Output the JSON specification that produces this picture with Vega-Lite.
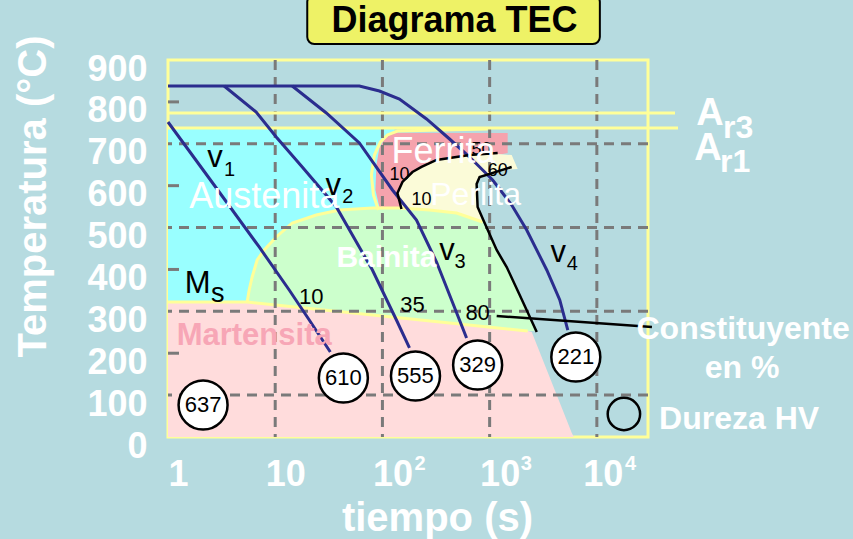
{
 "$schema": "https://vega.github.io/schema/vega-lite/v6.json",
 "width": 480, "height": 377,
 "autosize": {"type": "none"},
 "padding": {"left": 168, "top": 60, "right": 205, "bottom": 102},
 "background": "#b6dbe0",
 "config": {"view": {"stroke": "#ffff99", "strokeWidth": 3}, "font": "Liberation Sans"},
 "datasets": {
  "aust": [{"t": 1, "t2": 129.5, "T": 737.7, "T2": 322.3}],
  "mart": [{"i":0,"t":1,"T":322.3},{"i":1,"t":5.473,"T":322.3},{"i":2,"t":2265,"T":253.1},{"i":3,"t":2469,"T":250.7},{"i":4,"t":5840,"T":9.5},{"i":5,"t":6095,"T":0},{"i":6,"t":1,"T":0}],
  "ferr": [{"i":0,"t":93.76,"T":549.1},{"i":1,"t":86.03,"T":589.7},{"i":2,"t":87.89,"T":649.3},{"i":3,"t":93.76,"T":689.9},{"i":4,"t":106.7,"T":716.2},{"i":5,"t":129.5,"T":725.7},{"i":6,"t":1473,"T":725.7},{"i":7,"t":1473,"T":678.0},{"i":8,"t":1188,"T":673.2},{"i":9,"t":806.3,"T":661.3},{"i":10,"t":724.1,"T":625.5},{"i":11,"t":756.1,"T":553.9},{"i":12,"t":524.3,"T":537.1},{"i":13,"t":221.8,"T":546.7}],
  "bain": [{"i":0,"t":5.473,"T":322.3},{"i":1,"t":5.715,"T":350.9},{"i":2,"t":6.095,"T":382.0},{"i":3,"t":6.788,"T":422.6},{"i":4,"t":7.893,"T":446.4},{"i":5,"t":10.22,"T":477.5},{"i":6,"t":14.42,"T":510.9},{"i":7,"t":24.16,"T":530.0},{"i":8,"t":39.63,"T":541.9},{"i":9,"t":80.63,"T":546.7},{"i":10,"t":144.2,"T":546.7},{"i":11,"t":275.0,"T":541.9},{"i":12,"t":491.5,"T":534.8},{"i":13,"t":860.4,"T":513.3},{"i":14,"t":1163,"T":446.4},{"i":15,"t":1442,"T":405.8},{"i":16,"t":1907,"T":339.0},{"i":17,"t":2364,"T":284.1},{"i":18,"t":2634,"T":253.1},{"i":19,"t":2265,"T":253.1}],
  "perl": [{"i":0,"t":150.5,"T":541.9},{"i":1,"t":138.1,"T":582.5},{"i":2,"t":153.8,"T":608.8},{"i":3,"t":190.7,"T":632.6},{"i":4,"t":231.5,"T":644.6},{"i":5,"t":319.7,"T":661.3},{"i":6,"t":650.4,"T":673.2},{"i":7,"t":1188,"T":675.6},{"i":8,"t":1606,"T":673.2},{"i":9,"t":1827,"T":639.8},{"i":10,"t":1241,"T":637.4},{"i":11,"t":841.9,"T":623.1},{"i":12,"t":756.1,"T":604.0},{"i":13,"t":772.6,"T":549.1},{"i":14,"t":860.4,"T":513.3},{"i":15,"t":491.5,"T":534.8},{"i":16,"t":275.0,"T":541.9}],
  "lines": [
   {"l":"ferrOutline","i":0,"t":91.75,"T":541.9},{"l":"ferrOutline","i":1,"t":82.40,"T":577.7},{"l":"ferrOutline","i":2,"t":78.93,"T":625.5},{"l":"ferrOutline","i":3,"t":84.19,"T":673.2},{"l":"ferrOutline","i":4,"t":95.79,"T":704.3},{"l":"ferrOutline","i":5,"t":111.4,"T":721.0},{"l":"ferrOutline","i":6,"t":138.1,"T":730.5},{"l":"ferrOutline","i":7,"t":957.9,"T":735.3},
   {"l":"bainTop","i":0,"t":5.473,"T":322.3},{"l":"bainTop","i":1,"t":5.715,"T":350.9},{"l":"bainTop","i":2,"t":6.095,"T":382.0},{"l":"bainTop","i":3,"t":6.788,"T":422.6},{"l":"bainTop","i":4,"t":7.893,"T":446.4},{"l":"bainTop","i":5,"t":10.22,"T":477.5},{"l":"bainTop","i":6,"t":14.42,"T":510.9},{"l":"bainTop","i":7,"t":24.16,"T":530.0},{"l":"bainTop","i":8,"t":39.63,"T":541.9},{"l":"bainTop","i":9,"t":80.63,"T":546.7},{"l":"bainTop","i":10,"t":144.2,"T":546.7},{"l":"bainTop","i":11,"t":275.0,"T":541.9},{"l":"bainTop","i":12,"t":491.5,"T":534.8},{"l":"bainTop","i":13,"t":860.4,"T":513.3},
   {"l":"ms","i":0,"t":1,"T":322.3},{"l":"ms","i":1,"t":5.473,"T":322.3},{"l":"ms","i":2,"t":2265,"T":253.1},
   {"l":"v1","i":0,"t":1,"T":752},{"l":"v1","i":1,"t":2.692,"T":601.6},{"l":"v1","i":2,"t":7.087,"T":453.6},{"l":"v1","i":3,"t":13.51,"T":350.9},{"l":"v1","i":4,"t":20.78,"T":279.3},{"l":"v1","i":5,"t":32.66,"T":202.9},
   {"l":"v2","i":0,"t":3.337,"T":838},{"l":"v2","i":1,"t":6.643,"T":775.9},{"l":"v2","i":2,"t":10.22,"T":716.2},{"l":"v2","i":3,"t":17.87,"T":644.6},{"l":"v2","i":4,"t":37.17,"T":549.1},{"l":"v2","i":5,"t":80.64,"T":398.7},{"l":"v2","i":6,"t":135.1,"T":279.3},{"l":"v2","i":7,"t":178.8,"T":212.5},
   {"l":"v3","i":0,"t":14.41,"T":838},{"l":"v3","i":1,"t":29.97,"T":773.5},{"l":"v3","i":2,"t":60.96,"T":701.9},{"l":"v3","i":3,"t":124.0,"T":589.7},{"l":"v3","i":4,"t":207.8,"T":518.0},{"l":"v3","i":5,"t":319.7,"T":417.8},{"l":"v3","i":6,"t":441.5,"T":327.1},{"l":"v3","i":7,"t":609.5,"T":236.3},
   {"l":"v4","i":0,"t":1,"T":838},{"l":"v4","i":1,"t":60.96,"T":838},{"l":"v4","i":2,"t":93.76,"T":826},{"l":"v4","i":3,"t":144.2,"T":806.9},{"l":"v4","i":4,"t":257.8,"T":759.2},{"l":"v4","i":5,"t":422.9,"T":711.4},{"l":"v4","i":6,"t":650.4,"T":668.4},{"l":"v4","i":7,"t":1067,"T":613.5},{"l":"v4","i":8,"t":1606,"T":553.9},{"l":"v4","i":9,"t":2217,"T":494.2},{"l":"v4","i":10,"t":3410,"T":398.7},{"l":"v4","i":11,"t":4510,"T":327.1},{"l":"v4","i":12,"t":5358,"T":255.4},
   {"l":"start","i":0,"t":150.5,"T":544.3},{"l":"start","i":1,"t":138.1,"T":582.5},{"l":"start","i":2,"t":153.8,"T":608.8},{"l":"start","i":3,"t":190.7,"T":632.6},{"l":"start","i":4,"t":231.5,"T":644.6},{"l":"start","i":5,"t":319.7,"T":661.3},{"l":"start","i":6,"t":650.4,"T":673.2},{"l":"start","i":7,"t":1188,"T":678.0},
   {"l":"end","i":0,"t":1606,"T":644.6},{"l":"end","i":1,"t":806.3,"T":620.7},{"l":"end","i":2,"t":756.1,"T":604.0},{"l":"end","i":3,"t":772.6,"T":549.1},{"l":"end","i":4,"t":898.3,"T":510.9},{"l":"end","i":5,"t":1163,"T":446.4},{"l":"end","i":6,"t":1442,"T":405.8},{"l":"end","i":7,"t":1907,"T":339.0},{"l":"end","i":8,"t":2750,"T":250.7},
   {"l":"pointer","i":0,"t":1163,"T":288.9},{"l":"pointer","i":1,"t":32660,"T":262.6}
  ],
  "gx": [{"t":10},{"t":100},{"t":1000},{"t":10000}],
  "gy": [{"T":100},{"T":300},{"T":500},{"T":700}],
  "ticks": [{"t":1,"t2":1.267,"T":200},{"t":1,"t2":1.267,"T":400},{"t":1,"t2":1.267,"T":600},{"t":1,"t2":1.267,"T":800}],
  "ar": [{"t":1,"t2":53580,"T":773.5},{"t":1,"t2":57150,"T":737.7}],
  "hardness": [{"hv":"637","t":2.124,"T":76.4},{"hv":"610","t":43.21,"T":140.9},{"hv":"555","t":203.4,"T":145.6},{"hv":"329","t":772.6,"T":171.9},{"hv":"221","t":6364,"T":191.0}],
  "legendCircle": [{"t":17880,"T":54.9}],
  "titleBox": [{"t":19.9,"t2":10667,"T":938.2,"T2":1055}],
  "labels": [
   {"kind":"region","text":"Austenita","t":7.893,"T":573},
   {"kind":"region","text":"Ferrita","t":371.6,"T":680.4},
   {"kind":"regionS","text":"Perlita","t":740.1,"T":577.7},
   {"kind":"bain","text":"Bainita","t":109.0,"T":427.3},
   {"kind":"mart","text":"Martensita","t":6.364,"T":241.1},
   {"kind":"v","text":"v","t":2.750,"T":644.6},
   {"kind":"v","text":"v","t":34.85,"T":577.7},
   {"kind":"v","text":"v","t":400.6,"T":422.6},
   {"kind":"v","text":"v","t":4367,"T":417.8},
   {"kind":"v","text":"M","t":1.887,"T":343.8},
   {"kind":"sub","text":"1","t":3.337,"T":623.1},
   {"kind":"sub","text":"2","t":42.29,"T":558.6},
   {"kind":"sub","text":"3","t":470.9,"T":403.5},
   {"kind":"sub","text":"4","t":5244,"T":398.7},
   {"kind":"subs","text":"s","t":2.523,"T":322.3},
   {"kind":"pct","text":"10","t":21.70,"T":334.2},
   {"kind":"pct","text":"35","t":190.7,"T":315.1},
   {"kind":"pct","text":"80","t":772.6,"T":296.0},
   {"kind":"pcts","text":"10","t":144.2,"T":625.5},
   {"kind":"pcts","text":"10","t":231.5,"T":565.8},
   {"kind":"pcts","text":"60","t":1188,"T":635.0},
   {"kind":"pcts","text":"50","t":841.9,"T":685.2},
   {"kind":"A","text":"A","t":113800,"T":744.8},
   {"kind":"A","text":"A","t":109000,"T":661.3},
   {"kind":"Asub","text":"r3","t":150500,"T":713.8},
   {"kind":"Asub","text":"r1","t":141100,"T":632.6},
   {"kind":"right","text":"Constituyente","t":231500,"T":257.8},
   {"kind":"right","text":"en %","t":226500,"T":164.7},
   {"kind":"right","text":"Dureza HV","t":212400,"T":43.0},
   {"kind":"sup","text":"2","t":199.1,"T":-78.8},
   {"kind":"sup","text":"3","t":1949,"T":-78.8},
   {"kind":"sup","text":"4","t":18270,"T":-78.8},
   {"kind":"title","text":"Diagrama TEC","t":470.9,"T":967}
  ]
 },
 "layer": [
  {
   "data": {"name": "aust"},
   "mark": {"type": "rect", "fill": "#99ffff"},
   "encoding": {
    "x": {"field": "t", "type": "quantitative", "scale": {"type": "log", "domain": [1, 30000], "nice": false},
     "axis": {"title": "tiempo (s)", "values": [1, 10, 100, 1000, 10000],
      "labelExpr": "datum.value == 1 ? '1' : '10'",
      "grid": false, "ticks": false, "domain": false,
      "labelFont": "Liberation Sans", "labelFontSize": 36, "labelFontWeight": "bold", "labelColor": "#ffffff",
      "labelPadding": 20, "labelOffset": {"condition": {"test": "datum.value >= 10000", "value": 6}, "value": 10},
      "labelFlush": false, "labelOverlap": false, "labelBound": false,
      "titleFont": "Liberation Sans", "titleFontSize": 40, "titleFontWeight": "bold", "titleColor": "#ffffff",
      "titleX": 269, "titleY": 93, "titleAlign": "center", "titleBaseline": "alphabetic"}},
    "x2": {"field": "t2"},
    "y": {"field": "T", "type": "quantitative", "scale": {"domain": [0, 900], "nice": false, "zero": false},
     "axis": {"title": "Temperatura (°C)", "values": [0, 100, 200, 300, 400, 500, 600, 700, 800, 900],
      "grid": false, "ticks": false, "domain": false,
      "labelFont": "Liberation Sans", "labelFontSize": 36, "labelFontWeight": "bold", "labelColor": "#ffffff",
      "labelPadding": 21, "labelOffset": 9, "labelFlush": false, "labelOverlap": false, "labelBound": false,
      "titleFont": "Liberation Sans", "titleFontSize": 40, "titleFontWeight": "bold", "titleColor": "#ffffff",
      "titleAngle": 270, "titleX": -123, "titleY": 136, "titleAlign": "center", "titleBaseline": "alphabetic"}},
    "y2": {"field": "T2"}
   }
  },
  {
   "data": {"name": "mart"},
   "mark": {"type": "line", "interpolate": "linear-closed", "fill": "#ffdcdc", "strokeWidth": 0},
   "encoding": {"x": {"field": "t", "type": "quantitative"}, "y": {"field": "T", "type": "quantitative"}, "order": {"field": "i", "type": "quantitative"}}
  },
  {
   "data": {"name": "ferr"},
   "mark": {"type": "line", "interpolate": "linear-closed", "fill": "#f5a3ad", "strokeWidth": 0},
   "encoding": {"x": {"field": "t", "type": "quantitative"}, "y": {"field": "T", "type": "quantitative"}, "order": {"field": "i", "type": "quantitative"}}
  },
  {
   "data": {"name": "bain"},
   "mark": {"type": "line", "interpolate": "linear-closed", "fill": "#ccffcc", "strokeWidth": 0},
   "encoding": {"x": {"field": "t", "type": "quantitative"}, "y": {"field": "T", "type": "quantitative"}, "order": {"field": "i", "type": "quantitative"}}
  },
  {
   "data": {"name": "perl"},
   "mark": {"type": "line", "interpolate": "linear-closed", "fill": "#fbfbd8", "strokeWidth": 0},
   "encoding": {"x": {"field": "t", "type": "quantitative"}, "y": {"field": "T", "type": "quantitative"}, "order": {"field": "i", "type": "quantitative"}}
  },
  {
   "data": {"name": "lines"},
   "transform": [{"filter": {"field": "l", "oneOf": ["ferrOutline", "bainTop", "ms"]}}],
   "mark": {"type": "line", "stroke": "#ffff99", "strokeWidth": 3},
   "encoding": {"x": {"field": "t", "type": "quantitative"}, "y": {"field": "T", "type": "quantitative"}, "detail": {"field": "l"}, "order": {"field": "i", "type": "quantitative"}}
  },
  {
   "data": {"name": "gx"},
   "mark": {"type": "rule", "stroke": "#7a7a7a", "strokeWidth": 3, "strokeDash": [10, 7]},
   "encoding": {"x": {"field": "t", "type": "quantitative"}}
  },
  {
   "data": {"name": "gy"},
   "mark": {"type": "rule", "stroke": "#7a7a7a", "strokeWidth": 3, "strokeDash": [10, 7]},
   "encoding": {"y": {"field": "T", "type": "quantitative"}}
  },
  {
   "data": {"name": "ticks"},
   "mark": {"type": "rule", "stroke": "#7a7a7a", "strokeWidth": 3},
   "encoding": {"x": {"field": "t", "type": "quantitative"}, "x2": {"field": "t2"}, "y": {"field": "T", "type": "quantitative"}}
  },
  {
   "data": {"name": "ar"},
   "mark": {"type": "rule", "stroke": "#ffff99", "strokeWidth": 3},
   "encoding": {"x": {"field": "t", "type": "quantitative"}, "x2": {"field": "t2"}, "y": {"field": "T", "type": "quantitative"}}
  },
  {
   "data": {"name": "lines"},
   "transform": [{"filter": {"field": "l", "oneOf": ["v1", "v2", "v3", "v4"]}}],
   "mark": {"type": "line", "stroke": "#2b2d8e", "strokeWidth": 3},
   "encoding": {"x": {"field": "t", "type": "quantitative"}, "y": {"field": "T", "type": "quantitative"}, "detail": {"field": "l"}, "order": {"field": "i", "type": "quantitative"}}
  },
  {
   "data": {"name": "lines"},
   "transform": [{"filter": {"field": "l", "oneOf": ["start", "end", "pointer"]}}],
   "mark": {"type": "line", "stroke": "#000000", "strokeWidth": 2.5},
   "encoding": {"x": {"field": "t", "type": "quantitative"}, "y": {"field": "T", "type": "quantitative"}, "detail": {"field": "l"}, "order": {"field": "i", "type": "quantitative"}}
  },
  {
   "data": {"name": "labels"},
   "transform": [{"filter": "datum.kind == 'pcts'"}],
   "mark": {"type": "text", "font": "Liberation Sans", "fontSize": 18, "color": "#000000", "align": "center", "baseline": "middle"},
   "encoding": {"x": {"field": "t", "type": "quantitative"}, "y": {"field": "T", "type": "quantitative"}, "text": {"field": "text"}}
  },
  {
   "data": {"name": "labels"},
   "transform": [{"filter": "datum.kind == 'region'"}],
   "mark": {"type": "text", "font": "Liberation Sans", "fontSize": 36, "color": "#ffffff", "align": "center", "baseline": "middle"},
   "encoding": {"x": {"field": "t", "type": "quantitative"}, "y": {"field": "T", "type": "quantitative"}, "text": {"field": "text"}}
  },
  {
   "data": {"name": "labels"},
   "transform": [{"filter": "datum.kind == 'regionS'"}],
   "mark": {"type": "text", "font": "Liberation Sans", "fontSize": 32, "color": "#ffffff", "align": "center", "baseline": "middle"},
   "encoding": {"x": {"field": "t", "type": "quantitative"}, "y": {"field": "T", "type": "quantitative"}, "text": {"field": "text"}}
  },
  {
   "data": {"name": "labels"},
   "transform": [{"filter": "datum.kind == 'bain'"}],
   "mark": {"type": "text", "font": "Liberation Sans", "fontSize": 30, "fontWeight": "bold", "color": "#ffffff", "align": "center", "baseline": "middle"},
   "encoding": {"x": {"field": "t", "type": "quantitative"}, "y": {"field": "T", "type": "quantitative"}, "text": {"field": "text"}}
  },
  {
   "data": {"name": "labels"},
   "transform": [{"filter": "datum.kind == 'mart'"}],
   "mark": {"type": "text", "font": "Liberation Sans", "fontSize": 31, "fontWeight": "bold", "color": "#f7a6b6", "align": "center", "baseline": "middle"},
   "encoding": {"x": {"field": "t", "type": "quantitative"}, "y": {"field": "T", "type": "quantitative"}, "text": {"field": "text"}}
  },
  {
   "data": {"name": "labels"},
   "transform": [{"filter": "datum.kind == 'v'"}],
   "mark": {"type": "text", "font": "Liberation Sans", "fontSize": 31, "color": "#000000", "align": "center", "baseline": "alphabetic"},
   "encoding": {"x": {"field": "t", "type": "quantitative"}, "y": {"field": "T", "type": "quantitative"}, "text": {"field": "text"}}
  },
  {
   "data": {"name": "labels"},
   "transform": [{"filter": "datum.kind == 'sub'"}],
   "mark": {"type": "text", "font": "Liberation Sans", "fontSize": 20, "color": "#000000", "align": "left", "baseline": "alphabetic"},
   "encoding": {"x": {"field": "t", "type": "quantitative"}, "y": {"field": "T", "type": "quantitative"}, "text": {"field": "text"}}
  },
  {
   "data": {"name": "labels"},
   "transform": [{"filter": "datum.kind == 'subs'"}],
   "mark": {"type": "text", "font": "Liberation Sans", "fontSize": 27, "color": "#000000", "align": "left", "baseline": "alphabetic"},
   "encoding": {"x": {"field": "t", "type": "quantitative"}, "y": {"field": "T", "type": "quantitative"}, "text": {"field": "text"}}
  },
  {
   "data": {"name": "labels"},
   "transform": [{"filter": "datum.kind == 'pct'"}],
   "mark": {"type": "text", "font": "Liberation Sans", "fontSize": 22, "color": "#000000", "align": "center", "baseline": "middle"},
   "encoding": {"x": {"field": "t", "type": "quantitative"}, "y": {"field": "T", "type": "quantitative"}, "text": {"field": "text"}}
  },
  {
   "data": {"name": "hardness"},
   "mark": {"type": "point", "shape": "circle", "filled": true, "fill": "#ffffff", "stroke": "#000000", "strokeWidth": 2.5, "size": 2400, "opacity": 1},
   "encoding": {"x": {"field": "t", "type": "quantitative"}, "y": {"field": "T", "type": "quantitative"}}
  },
  {
   "data": {"name": "hardness"},
   "mark": {"type": "text", "font": "Liberation Sans", "fontSize": 22, "color": "#000000", "align": "center", "baseline": "middle"},
   "encoding": {"x": {"field": "t", "type": "quantitative"}, "y": {"field": "T", "type": "quantitative"}, "text": {"field": "hv"}}
  },
  {
   "data": {"name": "legendCircle"},
   "mark": {"type": "point", "shape": "circle", "filled": false, "stroke": "#000000", "strokeWidth": 2.5, "size": 1050, "opacity": 1},
   "encoding": {"x": {"field": "t", "type": "quantitative"}, "y": {"field": "T", "type": "quantitative"}}
  },
  {
   "data": {"name": "titleBox"},
   "mark": {"type": "rect", "fill": "#eef266", "stroke": "#000000", "strokeWidth": 2, "cornerRadius": 7},
   "encoding": {"x": {"field": "t", "type": "quantitative"}, "x2": {"field": "t2"}, "y": {"field": "T", "type": "quantitative"}, "y2": {"field": "T2"}}
  },
  {
   "data": {"name": "labels"},
   "transform": [{"filter": "datum.kind == 'title'"}],
   "mark": {"type": "text", "font": "Liberation Sans", "fontSize": 36, "fontWeight": "bold", "color": "#000000", "align": "center", "baseline": "alphabetic"},
   "encoding": {"x": {"field": "t", "type": "quantitative"}, "y": {"field": "T", "type": "quantitative"}, "text": {"field": "text"}}
  },
  {
   "data": {"name": "labels"},
   "transform": [{"filter": "datum.kind == 'sup'"}],
   "mark": {"type": "text", "font": "Liberation Sans", "fontSize": 20, "fontWeight": "bold", "color": "#ffffff", "align": "left", "baseline": "alphabetic"},
   "encoding": {"x": {"field": "t", "type": "quantitative"}, "y": {"field": "T", "type": "quantitative"}, "text": {"field": "text"}}
  },
  {
   "data": {"name": "labels"},
   "transform": [{"filter": "datum.kind == 'A'"}],
   "mark": {"type": "text", "font": "Liberation Sans", "fontSize": 38, "fontWeight": "bold", "color": "#ffffff", "align": "center", "baseline": "alphabetic"},
   "encoding": {"x": {"field": "t", "type": "quantitative"}, "y": {"field": "T", "type": "quantitative"}, "text": {"field": "text"}}
  },
  {
   "data": {"name": "labels"},
   "transform": [{"filter": "datum.kind == 'Asub'"}],
   "mark": {"type": "text", "font": "Liberation Sans", "fontSize": 32, "fontWeight": "bold", "color": "#ffffff", "align": "left", "baseline": "alphabetic"},
   "encoding": {"x": {"field": "t", "type": "quantitative"}, "y": {"field": "T", "type": "quantitative"}, "text": {"field": "text"}}
  },
  {
   "data": {"name": "labels"},
   "transform": [{"filter": "datum.kind == 'right'"}],
   "mark": {"type": "text", "font": "Liberation Sans", "fontSize": 32, "fontWeight": "bold", "color": "#ffffff", "align": "center", "baseline": "middle"},
   "encoding": {"x": {"field": "t", "type": "quantitative"}, "y": {"field": "T", "type": "quantitative"}, "text": {"field": "text"}}
  }
 ]
}
